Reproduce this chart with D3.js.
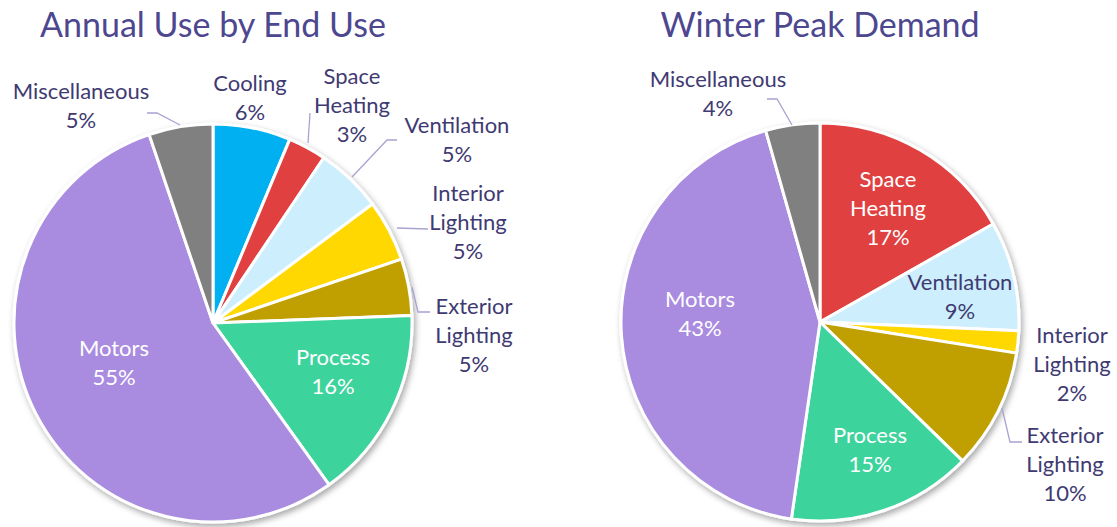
<!DOCTYPE html>
<html>
<head>
<meta charset="utf-8">
<script src="https://cdn.jsdelivr.net/npm/d3@7"></script>
<style>
  body { margin: 0; background: #fff; }
  svg { display: block; }
  text { font-family: Lato, 'Open Sans', sans-serif; }
</style>
</head>
<body>
<div id="chart"></div>
<script>
// slices clockwise from 12 o'clock
const categories = ['Cooling', 'Space Heating', 'Ventilation', 'Interior Lighting', 'Exterior Lighting', 'Process', 'Motors', 'Miscellaneous']
const annualUse = [6.3, 3.1, 5.4, 5.0, 4.6, 15.7, 54.7, 5.2]
const winterPeak = [0, 16.8, 8.9, 1.8, 9.8, 15.0, 43.3, 4.4]
const sliceColors = ['#00b0f0', '#e04141', '#cdeefc', '#fed800', '#c0a000', '#3ed39c', '#a98be0', '#808080']
const titles = ['Annual Use by End Use', 'Winter Peak Demand']

var width = 1117
var height = 527

// label placement (like dragged data labels in a spreadsheet chart)
var annualLabels = {
  'Miscellaneous': { x: 81, y: 91, fill: '#403a72', line: [[147, 113], [157, 113], [180, 125]] },
  'Cooling': { x: 250, y: 83, fill: '#403a72' },
  'Space Heating': { x: 352, y: 76, fill: '#403a72', line: [[310, 113], [308, 143]] },
  'Ventilation': { x: 457, y: 125, fill: '#403a72', line: [[397, 140], [387, 140], [352, 177]] },
  'Interior Lighting': { x: 468, y: 193, fill: '#403a72', line: [[397, 228], [428, 229]] },
  'Exterior Lighting': { x: 474, y: 306, fill: '#403a72', line: [[412, 287], [418, 312], [430, 312]] },
  'Process': { x: 333, y: 357, fill: '#ffffff' },
  'Motors': { x: 114, y: 348, fill: '#ffffff' }
}
var peakLabels = {
  'Miscellaneous': { x: 718, y: 79, fill: '#403a72', line: [[767, 99], [777, 99], [792, 125]] },
  'Space Heating': { x: 888, y: 179, fill: '#ffffff' },
  'Ventilation': { x: 960, y: 282, fill: '#403a72' },
  'Interior Lighting': { x: 1072, y: 335, fill: '#403a72' },
  'Exterior Lighting': { x: 1065, y: 435, fill: '#403a72', line: [[1002, 408], [1010, 442], [1022, 442]] },
  'Process': { x: 870, y: 435, fill: '#ffffff' },
  'Motors': { x: 700, y: 299, fill: '#ffffff' }
}

var svg = d3
  .select('#chart')
  .append('svg')
  .attr('width', width)
  .attr('height', height)

var defs = svg.append('defs')
defs
  .append('filter')
  .attr('id', 'shadow')
  .attr('x', '-10%')
  .attr('y', '-10%')
  .attr('width', '125%')
  .attr('height', '125%')
  .append('feDropShadow')
  .attr('dx', 2)
  .attr('dy', 3)
  .attr('stdDeviation', 3)
  .attr('flood-color', '#000')
  .attr('flood-opacity', 0.35)

var color = d3.scaleOrdinal().domain(categories).range(sliceColors)
var radius = 199
var arc = d3.arc().innerRadius(0).outerRadius(radius)
var pie = d3.pie().sort(null).value((d) => d.value)

var charts = [
  { title: titles[0], values: annualUse, cx: 213, cy: 323, labels: annualLabels },
  { title: titles[1], values: winterPeak, cx: 820, cy: 322, labels: peakLabels }
]

charts.forEach(function (c) {
  var data = categories
    .map((k, i) => ({ key: k, value: c.values[i] }))
    .filter((d) => d.value > 0)

  svg
    .append('text')
    .attr('x', c.cx)
    .attr('y', 37)
    .attr('text-anchor', 'middle')
    .attr('font-size', 34)
    .attr('fill', '#4d4790')
    .text(c.title)

  var g = svg.append('g').attr('transform', 'translate(' + c.cx + ',' + c.cy + ')')

  g.append('g')
    .attr('filter', 'url(#shadow)')
    .selectAll('path')
    .data(pie(data))
    .enter()
    .append('path')
    .attr('d', arc)
    .attr('fill', (d) => color(d.data.key))
    .attr('stroke', '#ffffff')
    .attr('stroke-width', 3)
    .attr('stroke-linejoin', 'round')

  // leader lines
  data.forEach(function (d) {
    var lab = c.labels[d.key]
    if (lab && lab.line) {
      svg
        .append('polyline')
        .attr('points', lab.line.map((p) => p.join(',')).join(' '))
        .attr('fill', 'none')
        .attr('stroke', '#a9a3d1')
        .attr('stroke-width', 1.3)
    }
  })

  // data labels
  data.forEach(function (d) {
    var lab = c.labels[d.key]
    if (!lab) return
    var lines = d.key.split(' ')
    lines.push(Math.round(d.value) + '%')
    var t = svg
      .append('text')
      .attr('text-anchor', 'middle')
      .attr('font-size', 22)
      .attr('fill', lab.fill)
    lines.forEach(function (s, i) {
      t.append('tspan')
        .attr('x', lab.x)
        .attr('y', lab.y + i * 29)
        .attr('dy', '0.35em')
        .text(s)
    })
  })
})
</script>
</body>
</html>
